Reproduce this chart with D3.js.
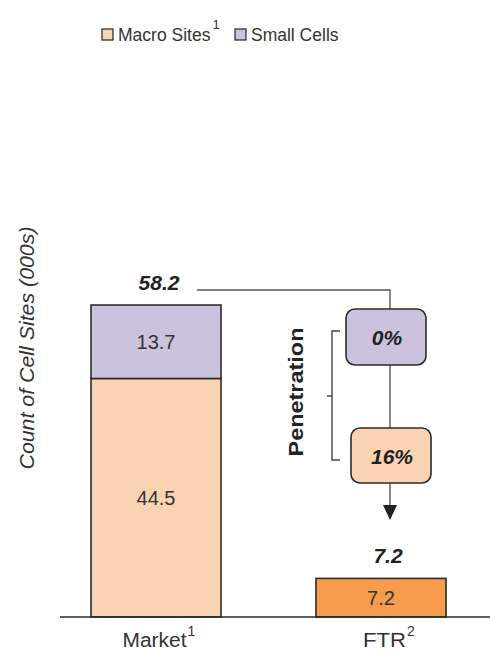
<!DOCTYPE html>
<html>
<head>
<meta charset="utf-8">
<script src="https://cdn.jsdelivr.net/npm/d3@7"></script>
<style>
  html, body { margin: 0; padding: 0; background: #fff; }
  svg { display: block; font-family: "Liberation Sans", Arial, sans-serif; }
</style>
</head>
<body>
<svg id="chart" width="490" height="650"></svg>
<script>
// Cell site counts (000s)
const categories = ["Market", "FTR"];
const categorySup = ["1", "2"];
const macroSites = [44.5, 0];
const smallCells = [13.7, 0];
const ftrSites = [0, 7.2];
const totals = [58.2, 7.2];
const penetrationLabels = ["0%", "16%"];
const legendLabels = ["Macro Sites", "Small Cells"];

const colors = {
  macro: "#f9d3b2",
  small: "#cbc3de",
  ftr: "#f79b4c",
  stroke: "#2b2b2b",
  text: "#333"
};

const svg = d3.select("#chart");

const x = d3.scaleBand()
  .domain(categories)
  .range([60, 477])
  .paddingInner(0.4222)
  .paddingOuter(0.1378);

const y = d3.scaleLinear().domain([0, 60]).range([617, 295.4]);

// Stacked bars
const stackRows = categories.map((c, i) => ({
  cat: c, macro: macroSites[i], small: smallCells[i], ftr: ftrSites[i]
}));
const stack = d3.stack().keys(["macro", "small", "ftr"])(stackRows);
const fills = { macro: colors.macro, small: colors.small, ftr: colors.ftr };
const valueLabels = { macro: macroSites, small: smallCells, ftr: ftrSites };

stack.forEach(layer => {
  const g = svg.append("g");
  layer.forEach((d, i) => {
    const v = d[1] - d[0];
    if (v <= 0) return;
    g.append("rect")
      .attr("x", x(d.data.cat))
      .attr("y", y(d[1]))
      .attr("width", x.bandwidth())
      .attr("height", y(d[0]) - y(d[1]))
      .attr("fill", fills[layer.key])
      .attr("stroke", colors.stroke)
      .attr("stroke-width", 1.6);
    g.append("text")
      .attr("x", x(d.data.cat) + x.bandwidth() / 2)
      .attr("y", (y(d[0]) + y(d[1])) / 2)
      .attr("dy", "0.36em")
      .attr("text-anchor", "middle")
      .attr("font-size", 20)
      .attr("fill", colors.text)
      .text(d3.format(".1f")(valueLabels[layer.key][i]));
  });
});

// Baseline
svg.append("line")
  .attr("x1", 60).attr("x2", 490)
  .attr("y1", y(0)).attr("y2", y(0))
  .attr("stroke", colors.stroke).attr("stroke-width", 1.6);

// Category labels with footnote markers
const catWidths = [64, 43];
categories.forEach((c, i) => {
  const cx = x(c) + x.bandwidth() / 2 + (i === 0 ? 2 : 7);
  const x0 = cx - (catWidths[i] + 7) / 2;
  svg.append("text")
    .attr("x", x0)
    .attr("y", 647)
    .attr("font-size", 20)
    .attr("fill", colors.text)
    .attr("textLength", catWidths[i])
    .attr("lengthAdjust", "spacingAndGlyphs")
    .text(c);
  svg.append("text")
    .attr("x", x0 + catWidths[i] + 1)
    .attr("y", 636)
    .attr("font-size", 14)
    .attr("fill", colors.text)
    .text(categorySup[i]);
});

// Total labels
categories.forEach((c, i) => {
  svg.append("text")
    .attr("x", x(c) + x.bandwidth() / 2 + (i === 0 ? 3 : 7))
    .attr("y", y(totals[i]) - 15)
    .attr("text-anchor", "middle")
    .attr("font-size", 21)
    .attr("font-weight", "bold")
    .attr("font-style", "italic")
    .attr("fill", "#222")
    .text(d3.format(".1f")(totals[i]));
});

// Flow connector from the market total down to the FTR bar
const flowX = 390;
const lineY = y(totals[0]) - 15;
svg.append("path")
  .attr("d", `M197,${lineY} H${flowX} V506`)
  .attr("fill", "none")
  .attr("stroke", "#555")
  .attr("stroke-width", 1.4);
svg.append("path")
  .attr("d", `M${flowX - 7},505 L${flowX + 7},505 L${flowX},520 Z`)
  .attr("fill", "#222");

// Penetration boxes
const boxes = [
  { label: penetrationLabels[0], fill: colors.small, cx: 386, y0: 309, h: 56 },
  { label: penetrationLabels[1], fill: colors.macro, cx: 391, y0: 428, h: 55 }
];
boxes.forEach(b => {
  svg.append("rect")
    .attr("x", b.cx - 40).attr("y", b.y0)
    .attr("width", 80).attr("height", b.h)
    .attr("rx", 9).attr("ry", 9)
    .attr("fill", b.fill)
    .attr("stroke", colors.stroke).attr("stroke-width", 1.6);
  svg.append("text")
    .attr("x", b.cx + 1).attr("y", b.y0 + b.h / 2)
    .attr("dy", "0.4em")
    .attr("text-anchor", "middle")
    .attr("font-size", 21)
    .attr("font-weight", "bold")
    .attr("font-style", "italic")
    .attr("fill", "#222")
    .text(b.label);
});

// Bracket grouping the two penetration rates
const bx = 332, bTop = 331, bBot = 460, bMid = 396;
svg.append("path")
  .attr("d", `M${bx + 8},${bTop} H${bx} V${bBot} H${bx + 8} M${bx},${bMid} H${bx - 5}`)
  .attr("fill", "none")
  .attr("stroke", "#444")
  .attr("stroke-width", 1.4);
svg.append("text")
  .attr("transform", "translate(303,392) rotate(-90)")
  .attr("text-anchor", "middle")
  .attr("font-size", 21)
  .attr("font-weight", "bold")
  .attr("fill", "#222")
  .attr("textLength", 129)
  .attr("lengthAdjust", "spacingAndGlyphs")
  .text("Penetration");

// Y axis title
svg.append("text")
  .attr("transform", "translate(34,348) rotate(-90)")
  .attr("text-anchor", "middle")
  .attr("font-size", 20)
  .attr("font-style", "italic")
  .attr("fill", colors.text)
  .attr("textLength", 243)
  .attr("lengthAdjust", "spacingAndGlyphs")
  .text("Count of Cell Sites (000s)");

// Legend
const legend = svg.append("g").attr("fill", colors.text);
const legendItems = [
  { x: 102, fill: colors.macro, label: legendLabels[0], sup: "1" },
  { x: 235, fill: colors.small, label: legendLabels[1], sup: null }
];
legendItems.forEach(it => {
  legend.append("rect")
    .attr("x", it.x).attr("y", 29)
    .attr("width", 11).attr("height", 11)
    .attr("fill", it.fill)
    .attr("stroke", "#333").attr("stroke-width", 1.3);
  const t = legend.append("text")
    .attr("x", it.x + 16).attr("y", 41)
    .attr("font-size", 17.5)
    .text(it.label);
  if (it.sup) {
    const w = t.node().getComputedTextLength();
    legend.append("text")
      .attr("x", it.x + 16 + w + 2).attr("y", 29)
      .attr("font-size", 13)
      .text(it.sup);
  }
});
</script>
</body>
</html>
